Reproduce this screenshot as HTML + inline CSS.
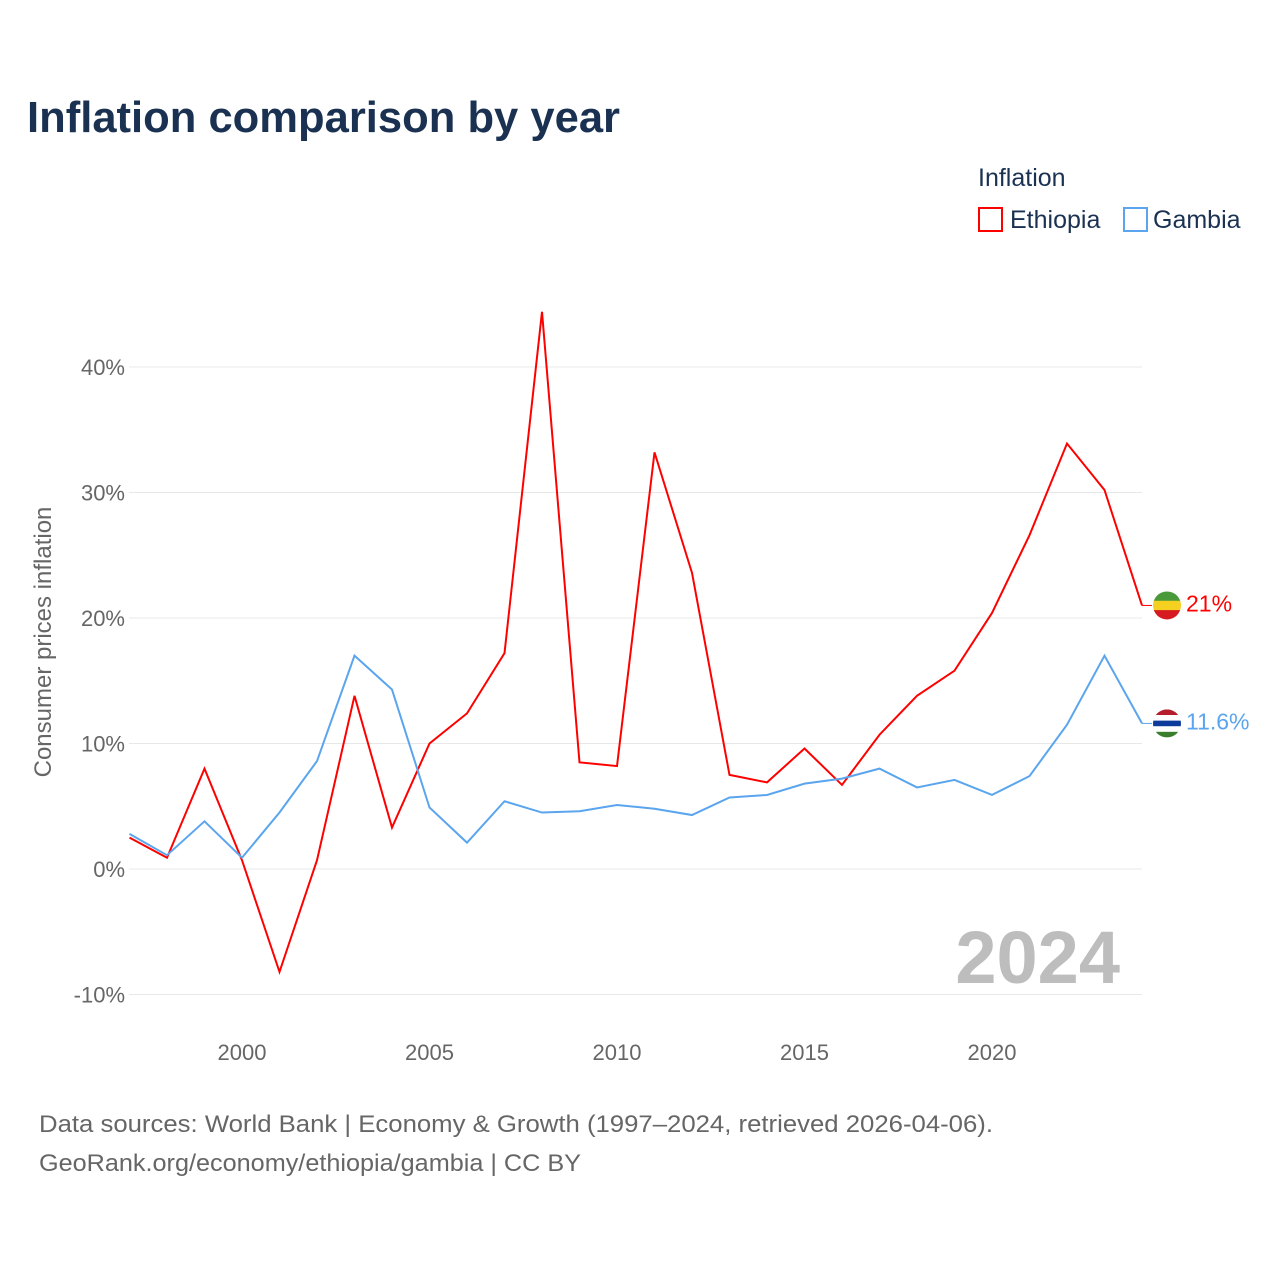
<!DOCTYPE html>
<html><head><meta charset="utf-8">
<style>
body{margin:0;background:#fff;font-family:"Liberation Sans",sans-serif;}
svg text{font-family:"Liberation Sans",sans-serif;}
</style></head>
<body>
<svg id="chart" width="1280" height="1280" viewBox="0 0 1280 1280" xmlns="http://www.w3.org/2000/svg">
<text x="27" y="132" font-size="44" font-weight="bold" fill="#1a3152" textLength="593" lengthAdjust="spacingAndGlyphs">Inflation comparison by year</text>
<text x="978" y="186" font-size="25" fill="#1a3152">Inflation</text>
<g><rect x="979" y="208" width="23" height="23" fill="#fff" stroke="#ff0000" stroke-width="2"/><text x="1010" y="228" font-size="25" fill="#1a3152">Ethiopia</text></g>
<g><rect x="1124" y="208" width="23" height="23" fill="#fff" stroke="#5aa5ee" stroke-width="2"/><text x="1153" y="228" font-size="25" fill="#1a3152">Gambia</text></g>
<text transform="translate(51,642) rotate(-90)" text-anchor="middle" font-size="24" fill="#666">Consumer prices inflation</text>
<g id="grid"></g><g id="xt"></g>
<text x="1120" y="983" text-anchor="end" font-size="74" font-weight="bold" fill="#bdbdbd">2024</text>
<g id="lines"></g>
<text x="39" y="1132" font-size="24" fill="#666" textLength="954" lengthAdjust="spacingAndGlyphs">Data sources: World Bank | Economy &amp; Growth (1997–2024, retrieved 2026-04-06).</text>
<text x="39" y="1171" font-size="24" fill="#666" textLength="542" lengthAdjust="spacingAndGlyphs">GeoRank.org/economy/ethiopia/gambia | CC BY</text>
</svg>
<script>
const years=[1997,1998,1999,2000,2001,2002,2003,2004,2005,2006,2007,2008,2009,2010,2011,2012,2013,2014,2015,2016,2017,2018,2019,2020,2021,2022,2023,2024];
const ethiopia=[2.5,0.9,8.0,0.7,-8.2,0.7,13.8,3.3,10.0,12.4,17.2,44.4,8.5,8.2,33.2,23.6,7.5,6.9,9.6,6.7,10.7,13.8,15.8,20.4,26.6,33.9,30.2,21.0];
const gambia=[2.8,1.1,3.8,0.9,4.5,8.6,17.0,14.3,4.9,2.1,5.4,4.5,4.6,5.1,4.8,4.3,5.7,5.9,6.8,7.2,8.0,6.5,7.1,5.9,7.4,11.5,17.0,11.6];
const yTicks=[-10,0,10,20,30,40];
const xTicks=[2000,2005,2010,2015,2020];
const NS="http://www.w3.org/2000/svg";
const x=v=>129.5+(v-1997)*(1142-129.5)/27;
const y=v=>869-v*12.55;
function mk(t,a,p){const e=document.createElementNS(NS,t);for(const k in a)e.setAttribute(k,a[k]);p.appendChild(e);return e;}
const grid=document.getElementById('grid');
yTicks.forEach(v=>{
 const l=mk('line',{x1:129,x2:1142,y1:y(v),y2:y(v),stroke:'#e8e8e8','stroke-width':1},grid);
 
 
 const t=mk('text',{x:125,y:y(v)+8,'text-anchor':'end','font-size':22,fill:'#666'},grid);
 t.textContent=v+'%';
 
 
});
const xt=document.getElementById('xt');
xTicks.forEach(v=>{
 const t=mk('text',{x:x(v),y:1060,'text-anchor':'middle','font-size':22,fill:'#666'},xt);
 t.textContent=v;
 
 
});
const lines=document.getElementById('lines');
function series(vals,color,name,label,flag){
 const p=mk('polyline',{points:vals.map((v,i)=>x(years[i])+','+y(v)).join(' '),fill:'none',stroke:color,'stroke-width':2},lines);
 
 
 const last=vals[vals.length-1],ly=y(last);
 mk('line',{x1:1142,x2:1152,y1:ly,y2:ly,stroke:color,'stroke-width':1},lines);
 const g=mk('g',{},lines);
 
 
 mk('clipPath',{id:'c'+name},g).appendChild(document.createElementNS(NS,'circle')).setAttribute('r',14);
 const cp=g.querySelector('clipPath circle');cp.setAttribute('cx',1167);cp.setAttribute('cy',ly);
 const gg=mk('g',{'clip-path':'url(#c'+name+')'},g);
 flag.forEach((c,i)=>mk('rect',{x:1153,y:ly-14+i*28/flag.length,width:28,height:28/flag.length+0.5,fill:c},gg));
 const t=mk('text',{x:1186,y:ly+6,'font-size':23,fill:color},lines);
 t.textContent=label(last);
 
 
}
series(ethiopia,'#ff0000','ethiopia',v=>Math.round(v)+'%',['#4b9a3a','#f6d021','#d71a21']);
series(gambia,'#5aa5ee','gambia',v=>v.toFixed(1)+'%',['#b51e2c','#fff','#0c3b9c','#fff','#3a7d2c']);
</script>
</body></html>
